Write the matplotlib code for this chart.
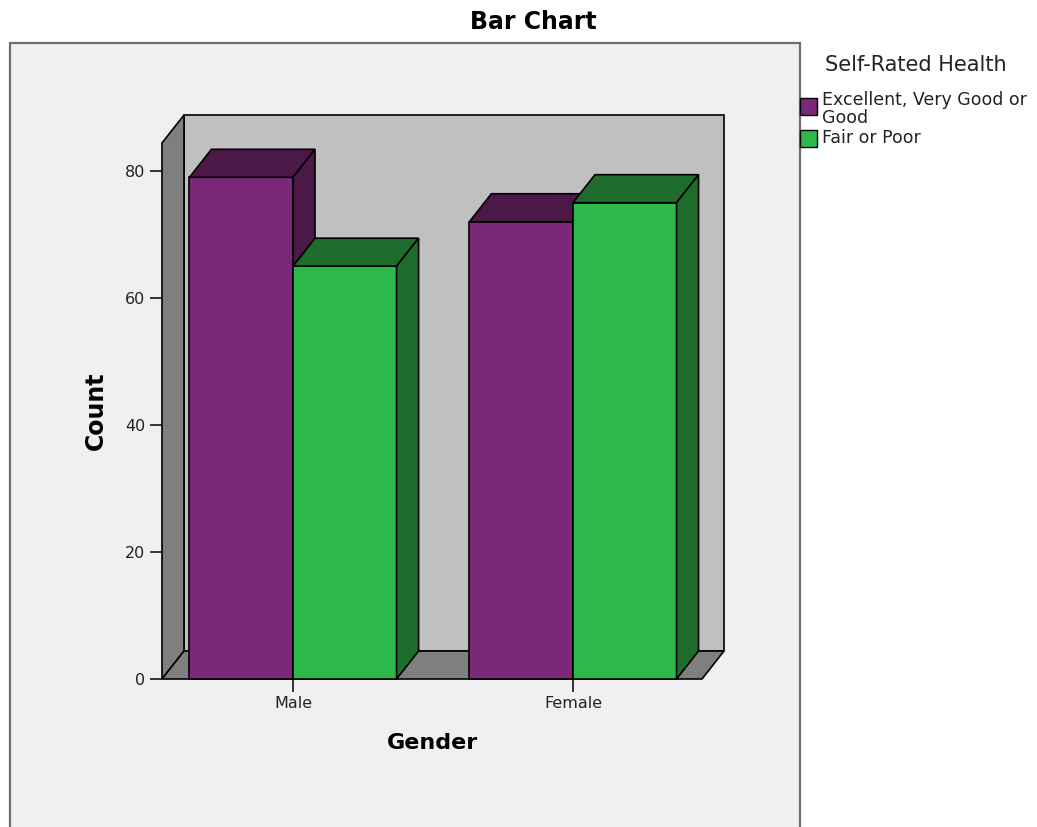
import matplotlib.pyplot as plt
from matplotlib.patches import Polygon, Rectangle

# Self-rated health by gender (counts)
genders = ['Male', 'Female']
health_labels = ['Excellent, Very Good or\nGood', 'Fair or Poor']
excellent_good = [79, 72]
fair_poor = [65, 75]
y_ticks = [0, 20, 40, 60, 80]

front_colors = ['#7b287b', '#2eb84a']
dark_colors = ['#4b1848', '#1e6d2d']

W, H = 1037, 827
fig = plt.figure(figsize=(W / 100, H / 100), dpi=100, facecolor='white')

# outer chart frame
frame = Rectangle((10 / W, -0.05), 790 / W, (H - 43) / H + 0.05,
                  transform=fig.transFigure, facecolor='#f0f0f0',
                  edgecolor='#6e6e6e', lw=1.6, zorder=0)
fig.add_artist(frame)

ax = fig.add_axes([162 / W, 1 - 679 / H, 540 / W, 536 / H])
ax.patch.set_visible(False)
for s in ax.spines.values():
    s.set_visible(False)

x0, x1 = -0.468, 1.461
ytop = 84.4
ax.set_xlim(x0, x1)
ax.set_ylim(0, ytop)

# depth of the 3D effect in data units
dx, dy = 0.0786, 4.41
edge = dict(edgecolor='black', lw=1.2, clip_on=False)

# walls and floor
ax.add_patch(Polygon([(x0 + dx, dy), (x1 + dx, dy), (x1 + dx, ytop + dy), (x0 + dx, ytop + dy)],
                     closed=True, facecolor='#c0c0c0', zorder=1, **edge))
ax.add_patch(Polygon([(x0, 0), (x0, ytop), (x0 + dx, ytop + dy), (x0 + dx, dy)],
                     closed=True, facecolor='#7f7f7f', zorder=2, **edge))
ax.add_patch(Polygon([(x0, 0), (x1, 0), (x1 + dx, dy), (x0 + dx, dy)],
                     closed=True, facecolor='#7f7f7f', zorder=2, **edge))

w = 0.37
z = 3
for i in range(len(genders)):
    for j, vals in enumerate([excellent_good, fair_poor]):
        left = i - w if j == 0 else i
        h = vals[i]
        ax.bar(left, h, w, align='edge', color=front_colors[j], zorder=z, **edge)
        ax.add_patch(Polygon([(left, h), (left + dx, h + dy), (left + w + dx, h + dy), (left + w, h)],
                             closed=True, facecolor=dark_colors[j], zorder=z, **edge))
        ax.add_patch(Polygon([(left + w, 0), (left + w, h), (left + w + dx, h + dy), (left + w + dx, dy)],
                             closed=True, facecolor=dark_colors[j], zorder=z, **edge))
        z += 1

ax.set_yticks(y_ticks)
ax.set_xticks(range(len(genders)))
ax.set_xticklabels(genders)
ax.tick_params(axis='both', direction='out', length=9, width=1.1, labelsize=11.5,
               colors='black', labelcolor='#222222', pad=3)

ax.set_ylabel('Count', fontsize=17, fontweight='bold', labelpad=12)
ax.set_xlabel('Gender', fontsize=16, fontweight='bold', labelpad=16)

fig.text(533 / W, 1 - 22 / H, 'Bar Chart', ha='center', va='center',
         fontsize=17, fontweight='bold')

# legend
fig.text(825 / W, 1 - 65 / H, 'Self-Rated Health', ha='left', va='center',
         fontsize=15, color='#222222')
swatch_y = [106, 138]
for j, lab in enumerate(health_labels):
    fig.add_artist(Rectangle((800 / W, 1 - (swatch_y[j] + 9) / H), 17 / W, 17 / H,
                             transform=fig.transFigure, facecolor=front_colors[j],
                             edgecolor='black', lw=1))
    ty = swatch_y[j] + (3 if j == 0 else 0)
    fig.text(822 / W, 1 - ty / H, lab, ha='left', va='center', fontsize=12.5,
             color='#222222', linespacing=0.95)

fig.savefig('out.png', dpi=100, facecolor='white')
